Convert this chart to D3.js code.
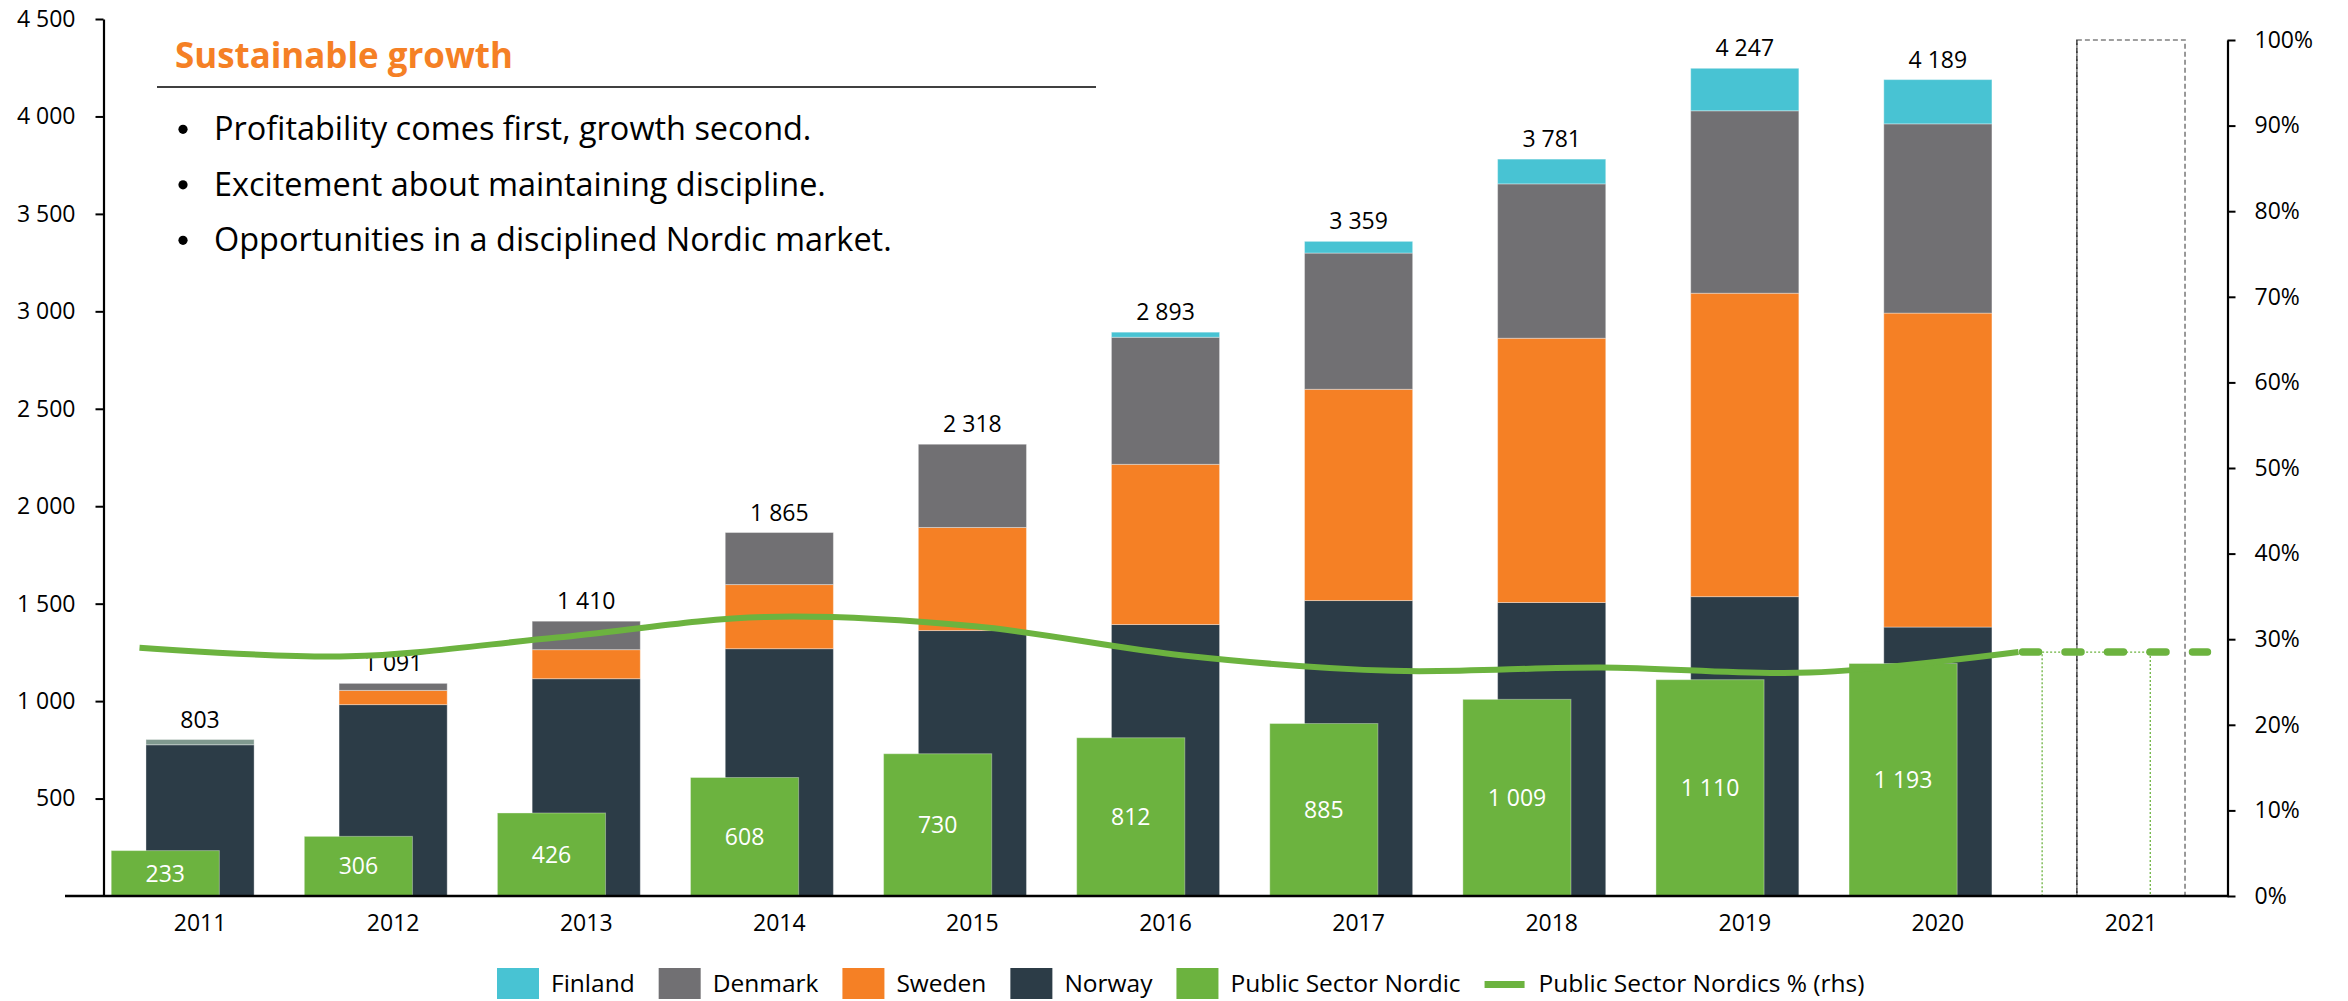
<!DOCTYPE html>
<html>
<head>
<meta charset="utf-8">
<script src="https://cdn.jsdelivr.net/npm/d3@7"></script>
<style>
  html, body { margin: 0; padding: 0; background: #fff; }
  svg { display: block; font-family: "Open Sans", sans-serif; }
</style>
</head>
<body>
<svg id="chart" width="2348" height="1001"></svg>
<script>
// ---- data -------------------------------------------------------------
const years        = ["2011","2012","2013","2014","2015","2016","2017","2018","2019","2020","2021"];
const dataYears    = years.slice(0, 10);
const norway       = [776, 982, 1115, 1269, 1362, 1393, 1516, 1506, 1536, 1380];
const sweden       = [0, 73, 149, 329, 529, 822, 1084, 1356, 1557, 1611];
const denmark      = [27, 36, 146, 267, 427, 652, 699, 792, 936, 971];
const finland      = [0, 0, 0, 0, 0, 26, 60, 127, 218, 227];
const totals       = [803, 1091, 1410, 1865, 2318, 2893, 3359, 3781, 4247, 4189];
const publicSector = [233, 306, 426, 608, 730, 812, 885, 1009, 1110, 1193];
const publicPct    = [0.290, 0.280, 0.302, 0.326, 0.315, 0.281, 0.263, 0.267, 0.261, 0.285];
const leftTicks    = [500, 1000, 1500, 2000, 2500, 3000, 3500, 4000, 4500];
const rightTicks   = [0, 0.1, 0.2, 0.3, 0.4, 0.5, 0.6, 0.7, 0.8, 0.9, 1.0];
const seriesKeys   = ["Norway", "Sweden", "Denmark", "Finland"];   // bottom to top
const titleText    = "Sustainable growth";
const bullets      = [
  "Profitability comes first, growth second.",
  "Excitement about maintaining discipline.",
  "Opportunities in a disciplined Nordic market."
];
const legendItems  = [
  { label: "Finland", key: "Finland", type: "box" },
  { label: "Denmark", key: "Denmark", type: "box" },
  { label: "Sweden", key: "Sweden", type: "box" },
  { label: "Norway", key: "Norway", type: "box" },
  { label: "Public Sector Nordic", key: "Public", type: "box" },
  { label: "Public Sector Nordics % (rhs)", key: "Public", type: "line" }
];

// ---- styles -----------------------------------------------------------
const colors = {
  Finland: "#48C3D3",
  Denmark: "#717073",
  Sweden:  "#F58025",
  Norway:  "#2C3C47",
  Public:  "#6CB33F"
};
const denmarkEarlyTint = "#80998F";

// ---- layout -----------------------------------------------------------
const plotLeft = 103.5, plotRight = 2227.5, baseY = 896;
const svg = d3.select("#chart");

const fmt = d3.formatLocale({ decimal: ",", thousands: "\u00a0", grouping: [3] }).format(",d");

const x = d3.scaleBand().domain(years)
  .range([plotLeft, plotRight])
  .paddingInner(0.44).paddingOuter(0.22);
const greenShift = -x.step() * 0.18;

const yL = d3.scaleLinear().domain([0, 4500]).range([baseY, 19]);
const yR = d3.scaleLinear().domain([0, 1]).range([baseY, 40]);
const lineX = d3.scalePoint().domain(dataYears).range([plotLeft + 36, plotRight - 209]);

const rows = dataYears.map((yr, i) => ({
  year: yr, Norway: norway[i], Sweden: sweden[i], Denmark: denmark[i], Finland: finland[i]
}));
const stacked = d3.stack().keys(seriesKeys)(rows);

// ---- stacked country bars --------------------------------------------
const gStack = svg.append("g");
stacked.forEach(layer => {
  gStack.selectAll(null).data(layer.filter(d => d[1] > d[0])).join("rect")
    .attr("x", d => x(d.data.year))
    .attr("width", x.bandwidth())
    .attr("y", d => yL(d[1]))
    .attr("height", d => yL(d[0]) - yL(d[1]))
    .attr("fill", d => (layer.key === "Denmark" && d.data.year === "2011") ? denmarkEarlyTint : colors[layer.key])
    .attr("stroke", "#ffffff").attr("stroke-opacity", 0.35).attr("stroke-width", 1);
});

// total labels above the stacks
svg.append("g").selectAll("text").data(dataYears).join("text")
  .attr("x", d => x(d) + x.bandwidth() / 2)
  .attr("y", (d, i) => yL(totals[i]) - 12)
  .attr("text-anchor", "middle")
  .attr("font-size", 23).attr("fill", "#000")
  .text((d, i) => fmt(totals[i]));

// ---- public sector bars ----------------------------------------------
const gGreen = svg.append("g");
gGreen.selectAll("rect").data(dataYears).join("rect")
  .attr("x", d => x(d) + greenShift)
  .attr("width", x.bandwidth())
  .attr("y", (d, i) => yL(publicSector[i]))
  .attr("height", (d, i) => baseY - yL(publicSector[i]))
  .attr("fill", colors.Public)
  .attr("stroke", "#ffffff").attr("stroke-opacity", 0.35).attr("stroke-width", 1);

gGreen.selectAll("text").data(dataYears).join("text")
  .attr("x", d => x(d) + greenShift + x.bandwidth() / 2)
  .attr("y", (d, i) => (yL(publicSector[i]) + baseY) / 2)
  .attr("dy", "0.36em")
  .attr("text-anchor", "middle")
  .attr("font-size", 23).attr("fill", "#fff")
  .text((d, i) => fmt(publicSector[i]));

// ---- 2021 placeholders -----------------------------------------------
const lastPct = publicPct[publicPct.length - 1];
const yr21 = years[years.length - 1];
// outline for the coming public sector bar
svg.append("rect")
  .attr("x", x(yr21) + greenShift).attr("width", x.bandwidth())
  .attr("y", yR(lastPct)).attr("height", baseY - yR(lastPct))
  .attr("fill", "none").attr("stroke", colors.Public)
  .attr("stroke-width", 1.3).attr("stroke-dasharray", "2,2");
// outline for the coming total bar
svg.append("rect")
  .attr("x", x(yr21)).attr("width", x.bandwidth())
  .attr("y", yR(1)).attr("height", baseY - yR(1))
  .attr("fill", "none").attr("stroke", "#808080")
  .attr("stroke-width", 1.6).attr("stroke-dasharray", "5,3");
svg.append("line")
  .attr("x1", x(yr21)).attr("x2", x(yr21))
  .attr("y1", yR(1)).attr("y2", baseY)
  .attr("stroke", "#222").attr("stroke-width", 1.3).attr("stroke-dasharray", "5,3");

// ---- share line (rhs) -------------------------------------------------
const line = d3.line()
  .x((d, i) => lineX(dataYears[i]))
  .y(d => yR(d))
  .curve(d3.curveCatmullRom.alpha(0.5));
svg.append("path").datum(publicPct)
  .attr("d", line)
  .attr("fill", "none").attr("stroke", colors.Public)
  .attr("stroke-width", 6).attr("stroke-linejoin", "round");

// flat continuation into the next year
const lastX = lineX(dataYears[dataYears.length - 1]);
svg.append("line")
  .attr("x1", lastX + 4).attr("x2", lastX + lineX.step() * 0.905)
  .attr("y1", yR(lastPct)).attr("y2", yR(lastPct))
  .attr("stroke", colors.Public).attr("stroke-width", 7.5)
  .attr("stroke-linecap", "round").attr("stroke-dasharray", "16,26.5");

// ---- axes -------------------------------------------------------------
const axisL = svg.append("g").attr("transform", `translate(${plotLeft},0)`)
  .call(d3.axisLeft(yL).tickValues(leftTicks).tickSize(8).tickSizeOuter(0).tickPadding(20)
    .tickFormat(d => fmt(d)));
const axisR = svg.append("g").attr("transform", `translate(${plotRight},0)`)
  .call(d3.axisRight(yR).tickValues(rightTicks).tickSize(8).tickSizeOuter(0).tickPadding(19)
    .tickFormat(d3.format(".0%")));
const axisB = svg.append("g").attr("transform", `translate(0,${baseY})`)
  .call(d3.axisBottom(x).tickSize(0).tickPadding(19));
axisB.select(".domain").remove();
svg.append("line")
  .attr("x1", 65).attr("x2", plotRight + 1)
  .attr("y1", baseY).attr("y2", baseY)
  .attr("stroke", "#000").attr("stroke-width", 2.5);

[axisL, axisR, axisB].forEach(g => {
  g.selectAll("text").attr("font-size", 23).attr("fill", "#000")
    .attr("font-family", "Open Sans, sans-serif");
  g.selectAll(".domain").attr("stroke", "#000").attr("stroke-width", 2.2);
  g.selectAll(".tick line").attr("stroke", "#000").attr("stroke-width", 2);
});

// ---- headline and bullet points --------------------------------------
function fitFont(sel, targetWidth, start) {
  sel.attr("font-size", start);
  const w = sel.node().getComputedTextLength();
  const size = start * targetWidth / w;
  sel.attr("font-size", size);
  return size;
}
const title = svg.append("text")
  .attr("x", 175).attr("y", 68)
  .attr("fill", "#F58025").attr("font-weight", 700)
  .text(titleText);
fitFont(title, 338, 32);

svg.append("line")
  .attr("x1", 157).attr("x2", 1096).attr("y1", 87).attr("y2", 87)
  .attr("stroke", "#404040").attr("stroke-width", 2);

const bulletY = i => 140 + i * 55.5;
const gBul = svg.append("g");
const bulletTexts = gBul.selectAll("text.b").data(bullets).join("text")
  .attr("class", "b")
  .attr("x", 214).attr("y", (d, i) => bulletY(i))
  .attr("fill", "#000")
  .text(d => d);
const bSize = fitFont(d3.select(bulletTexts.nodes()[2]), 678, 28);
bulletTexts.attr("font-size", bSize);
gBul.selectAll("circle").data(bullets).join("circle")
  .attr("cx", 183).attr("cy", (d, i) => bulletY(i) - bSize * 0.33)
  .attr("r", 4.6).attr("fill", "#000");

// ---- legend -----------------------------------------------------------
const legend = svg.append("g");
let lx = 497;
const ly = 983.5;
legendItems.forEach(it => {
  if (it.type === "box") {
    legend.append("rect").attr("x", lx).attr("y", ly - 15.5)
      .attr("width", 42).attr("height", 31).attr("fill", colors[it.key]);
  } else {
    legend.append("line").attr("x1", lx).attr("x2", lx + 40)
      .attr("y1", ly + 1).attr("y2", ly + 1)
      .attr("stroke", colors[it.key]).attr("stroke-width", 7);
  }
  const t = legend.append("text").attr("x", lx + 54).attr("y", ly).attr("dy", "0.36em")
    .attr("font-size", 24.5).attr("fill", "#000").text(it.label);
  lx += 54 + t.node().getComputedTextLength() + 24;
});
</script>
</body>
</html>
